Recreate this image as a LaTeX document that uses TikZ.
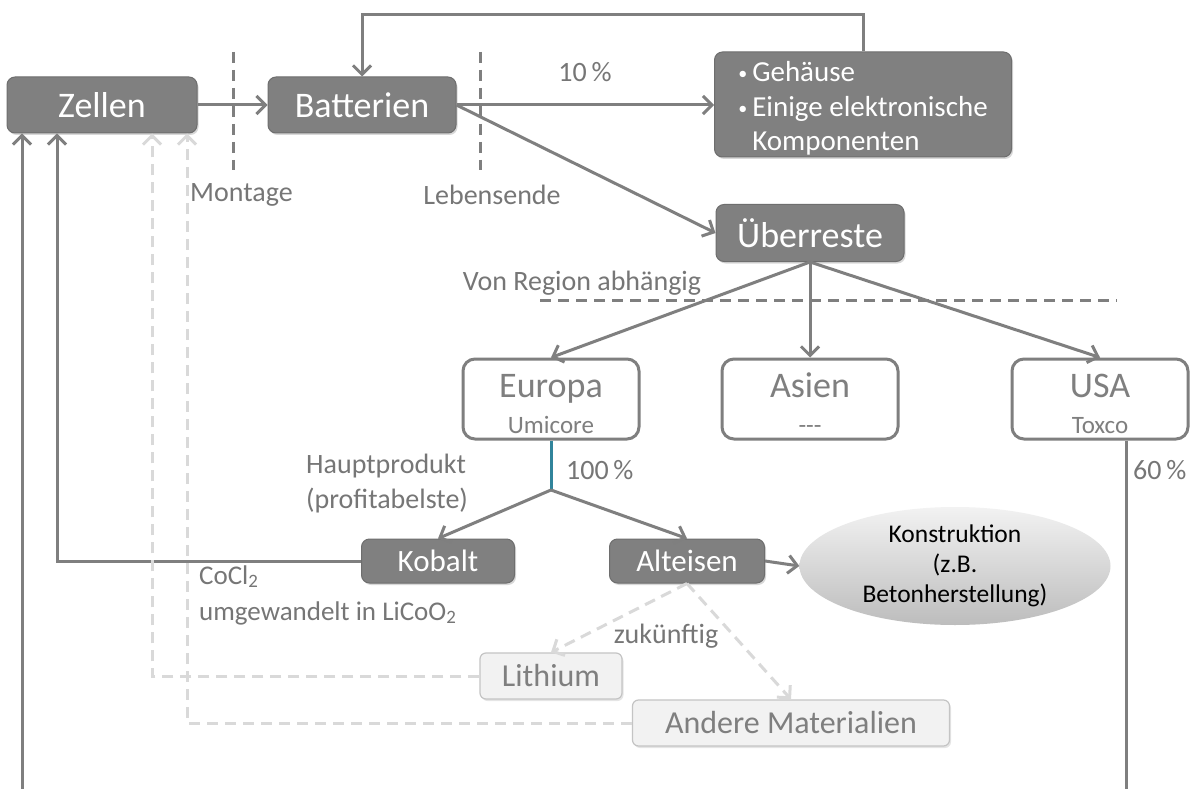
\documentclass[tikz,border=0pt]{standalone}
\usepackage{fontspec}
\setmainfont{Carlito}
\usetikzlibrary{arrows.meta,shapes.geometric,shadows}
\definecolor{boxgray}{HTML}{808080}
\definecolor{boxedge}{HTML}{6E6E6E}
\definecolor{linegray}{HTML}{7F7F7F}
\definecolor{txtgray}{HTML}{767676}
\definecolor{lightline}{HTML}{D9D9D9}
\definecolor{lightfill}{HTML}{F2F2F2}
\definecolor{lightedge}{HTML}{C4C4C4}
\definecolor{tealc}{HTML}{31849B}
\newcommand\ftitle{\fontsize{36}{40}\selectfont}
\newcommand\fmid{\fontsize{31}{36}\selectfont}
\newcommand\flabel{\fontsize{28}{35}\selectfont}
\newcommand\fsmall{\fontsize{25}{30}\selectfont}
\newcommand\fkon{\fontsize{25.5}{30}\selectfont}
\newcommand\bul{\makebox[14pt][l]{\raisebox{2pt}{\fontsize{18}{18}\selectfont\textbullet}}}
\newcommand\regtext[2]{\fsmall\raisebox{-9pt}[\height][\depth]{\begin{tabular}{@{}c@{}}{\ftitle #1}\\[6pt]{\fsmall #2}\end{tabular}}}
\begin{document}
\begin{tikzpicture}[x=1pt,y=-1pt,
  dbox/.style={draw=boxedge, line width=1pt, fill=boxgray, rounded corners=8pt,
    text=white, inner sep=0pt,
    drop shadow={shadow xshift=1.5pt,shadow yshift=-2pt,opacity=0.3}},
  wbox/.style={draw=linegray, line width=3pt, fill=white, rounded corners=12pt,
    text=linegray, inner sep=0pt, align=center,
    minimum width=176pt, minimum height=80pt},
  lbox/.style={draw=lightedge, line width=1.2pt, fill=lightfill, rounded corners=6pt,
    text=linegray, inner sep=0pt, font=\fontsize{32}{36}\selectfont,
    drop shadow={shadow xshift=1.5pt,shadow yshift=-2pt,opacity=0.2}},
  lbl/.style={text=txtgray, font=\flabel, inner sep=0pt},
  conn/.style={draw=linegray, line width=3pt, -{Straight Barb[length=9pt,width=18pt]}},
  plain/.style={draw=linegray, line width=3pt},
  sep/.style={draw=linegray, line width=3pt, dash pattern=on 11pt off 7pt},
  fut/.style={draw=lightline, line width=3pt, dash pattern=on 11pt off 7pt},
  futarr/.style={fut, -{Straight Barb[length=9pt,width=18pt]}},
  ]
\useasboundingbox (0,0) rectangle (1195,789);
\fill[white] (0,0) rectangle (1195,789);

% separators
\draw[sep] (233,52) -- (233,170);
\draw[sep] (480,52) -- (480,170);
\draw[sep] (540,300) -- (1117,300);

% main boxes
\node[dbox, font=\ftitle, minimum width=190pt, minimum height=56pt] (Zellen) at (102,105) {Zellen};
\node[dbox, font=\ftitle, minimum width=188pt, minimum height=56pt] (Batterien) at (362,105) {Batterien};
\node[dbox, font=\fontsize{29}{34.5}\selectfont, minimum width=297pt, minimum height=105pt] (Gehaeuse) at (863,104.5)
  {\raisebox{-5pt}[\height][\depth]{\begin{tabular}{@{}l@{}}\bul Gehäuse\\\bul Einige elektronische\\\hspace*{14pt}Komponenten\end{tabular}}};
\node[dbox, font=\ftitle, minimum width=188pt, minimum height=57pt] (Ueberreste) at (810,233) {Überreste};

\node[wbox] (Europa) at (551,399) {\regtext{Europa}{Umicore}};
\node[wbox] (Asien) at (810,399) {\regtext{Asien}{-{}-{}-}};
\node[wbox] (USA) at (1100,399) {\regtext{USA}{Toxco}};

\node[dbox, font=\fmid, minimum width=153pt, minimum height=44pt] (Kobalt) at (438,561) {Kobalt};
\node[dbox, font=\fmid, minimum width=155pt, minimum height=44pt] (Alteisen) at (687,561) {Alteisen};
\node[ellipse, draw=none, top color=lightfill, bottom color=black!26, minimum width=311pt, minimum height=118pt,
  inner sep=0pt, align=center, font=\fkon, text=black] (Konstr) at (955,566)
  {Konstruktion\\(z.B.\\Betonherstellung)};

\node[lbox, minimum width=142pt, minimum height=46pt] (Lithium) at (551,676) {Lithium};
\node[lbox, minimum width=317pt, minimum height=46pt] (Andere) at (791,723) {Andere Materialien};

% labels
\node[lbl] (l10) at (585,72) {10\,\%};
\node[lbl, anchor=west] (lMont) at (190,195) {Montage};
\node[lbl] (lLeb) at (492,195) {Lebensende};
\node[lbl] (lReg) at (582,283) {Von Region abhängig};
\node[lbl, align=left, anchor=west] (lHaupt) at (306,484) {Hauptprodukt\\(profitabelste)};
\node[lbl, anchor=west] (l100) at (566,470) {100\,\%};
\node[lbl, anchor=west] (l60) at (1133,470) {60\,\%};
\node[lbl, align=left, anchor=west, font=\fontsize{27}{36}\selectfont] (lCo) at (199,595)
  {CoCl\textsubscript{2}\\umgewandelt in LiCoO\textsubscript{2}};
\node[lbl] (lZuk) at (666,636) {zukünftig};

% coordinates
\coordinate (split) at (551,490);
\coordinate (bottomL) at (22,789);
\coordinate (bottomR) at (1126,789);

% connectors
\draw[conn] (Zellen) -- (Batterien);
\draw[conn] (Batterien.east) -- (Batterien.east -| Gehaeuse.west);
\draw[conn] (Gehaeuse.north) -- ++(0,-37) -| (Batterien.north);
\draw[conn] (Batterien.east) -- (Ueberreste.west);
\draw[conn] (Ueberreste.south) -- (Europa.north);
\draw[conn] (Ueberreste.south) -- (Asien.north);
\draw[conn] (Ueberreste.south) -- (USA.north);
\draw[draw=tealc, line width=3pt] (Europa.south) -- (split);
\draw[conn] (split) -- (Kobalt.north);
\draw[conn] (split) -- (Alteisen.north);
\draw[conn] (Alteisen.east) -- (Konstr.west);
\draw[conn] (Kobalt.west) -| (57,0 |- Zellen.south);
\draw[conn] (bottomL) -- (bottomL |- Zellen.south);
\draw[plain] (bottomR |- USA.south) -- (bottomR);
\draw[futarr] (Alteisen.south) -- (Lithium.north);
\draw[futarr] (Alteisen.south) -- (Andere.north);
\draw[futarr] (Lithium.west) -| (152,0 |- Zellen.south);
\draw[futarr] (Andere.west) -| (187,0 |- Zellen.south);
\end{tikzpicture}
\end{document}
